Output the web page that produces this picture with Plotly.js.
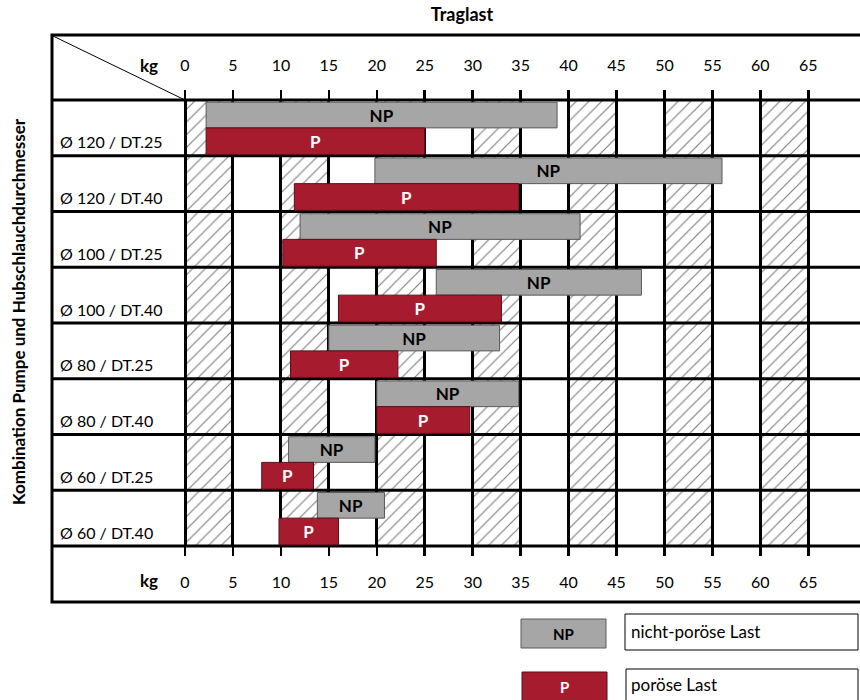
<!DOCTYPE html>
<html><head><meta charset="utf-8">
<script src="https://cdn.plot.ly/plotly-3.0.1.min.js"></script>
<style>html,body{margin:0;padding:0;background:#fff}#chart{width:860px;height:700px}</style>
</head><body><div id="chart"></div>
<script>
// ---- data ----
const categories = ['Ø 120 / DT.25','Ø 120 / DT.40','Ø 100 / DT.25','Ø 100 / DT.40','Ø 80 / DT.25','Ø 80 / DT.40','Ø 60 / DT.25','Ø 60 / DT.40'];
const npStart = [2.2, 19.8, 12.0, 26.2, 15.0, 20.0, 10.8, 13.8];
const npEnd   = [38.8, 56.0, 41.2, 47.6, 32.8, 34.8, 19.8, 20.8];
const pStart  = [2.2, 11.4, 10.2, 16.0, 11.0, 20.0, 8.0, 9.8];
const pEnd    = [25.0, 34.8, 26.2, 33.0, 22.2, 29.7, 13.4, 16.0];
const tickValues = [0,5,10,15,20,25,30,35,40,45,50,55,60,65];
const tickLabels = ['0','5','10','15','20','25','30','35','40','45','50','55','60','65'];
const hatchStart = [0,10,20,30,40,50,60];
const hatchEnd   = [5,15,25,35,45,55,65];
const npLabel = 'NP', pLabel = 'P';
const npLegend = 'nicht-poröse Last', pLegend = 'poröse Last';
const titleText = 'Traglast';
const yTitleText = 'Kombination Pumpe und Hubschlauchdurchmesser';
const unitLabel = 'kg';

// ---- layout geometry ----
const W = 860, H = 700, ML = 183, MR = 0, MT = 100, MB = 154;
const PW = W - ML - MR, PH = H - MT - MB;
const fx = p => (p - ML) / PW;
const fy = p => (MT + PH - p) / PH;
const N = categories.length;
const FONT = 'Lato, "Open Sans", sans-serif';
const GRAY = '#a6a6a6', RED = '#a61b2d';

const idx = categories.map((c, i) => i);

const hatch = {
  type: 'bar', orientation: 'h', xaxis: 'x', yaxis: 'y',
  y: hatchStart.map(() => (N - 1) / 2),
  base: hatchStart,
  x: hatchStart.map((s, i) => hatchEnd[i] - s),
  width: N, offset: -N / 2,
  marker: { color: 'rgba(0,0,0,0)', line: { width: 0 },
    pattern: { shape: '/', size: 9, solidity: 0.13, fgcolor: '#000', bgcolor: 'rgba(0,0,0,0)', fillmode: 'overlay' } },
  hoverinfo: 'skip', showlegend: false
};

const npTrace = {
  type: 'bar', orientation: 'h', xaxis: 'x2', yaxis: 'y',
  y: idx, base: npStart, x: npStart.map((s, i) => npEnd[i] - s),
  offset: -0.46, width: 0.46,
  marker: { color: GRAY, line: { color: '#5a5a5a', width: 1 } },
  text: idx.map(() => npLabel), textposition: 'inside', insidetextanchor: 'middle',
  textangle: 0, constraintext: 'none',
  textfont: { family: FONT, size: 17, color: '#000', weight: 700 },
  name: npLegend, showlegend: false
};
const pTrace = {
  type: 'bar', orientation: 'h', xaxis: 'x2', yaxis: 'y',
  y: idx, base: pStart, x: pStart.map((s, i) => pEnd[i] - s),
  offset: 0, width: 0.48,
  marker: { color: RED, line: { color: '#5a0e18', width: 1 } },
  text: idx.map(() => pLabel), textposition: 'inside', insidetextanchor: 'middle',
  textangle: 0, constraintext: 'none',
  textfont: { family: FONT, size: 17, color: '#fff', weight: 700 },
  name: pLegend, showlegend: false
};

const shapes = [];
for (let k = 0; k <= N; k++) {
  shapes.push({ type: 'line', xref: 'paper', yref: 'paper', x0: fx(52), x1: fx(880), y0: 1 - k / N, y1: 1 - k / N,
    line: { color: '#000', width: 3 }, layer: 'below' });
}
shapes.push({ type: 'rect', xref: 'paper', yref: 'paper', x0: fx(52), x1: fx(890), y0: fy(602), y1: fy(35),
  line: { color: '#000', width: 3 }, fillcolor: 'rgba(0,0,0,0)', layer: 'above' });
shapes.push({ type: 'line', xref: 'paper', yref: 'paper', x0: fx(53), y0: fy(36), x1: fx(185), y1: 1,
  line: { color: '#000', width: 1 }, layer: 'above' });
// legend boxes
shapes.push({ type: 'rect', xref: 'paper', yref: 'paper', x0: fx(521), x1: fx(606), y0: fy(648), y1: fy(619),
  fillcolor: GRAY, line: { color: '#5a5a5a', width: 1 } });
shapes.push({ type: 'rect', xref: 'paper', yref: 'paper', x0: fx(625), x1: fx(858), y0: fy(650), y1: fy(614),
  fillcolor: '#fff', line: { color: '#000', width: 1 } });
shapes.push({ type: 'rect', xref: 'paper', yref: 'paper', x0: fx(522), x1: fx(607), y0: fy(710), y1: fy(672),
  fillcolor: RED, line: { color: '#5a0e18', width: 1 } });
shapes.push({ type: 'rect', xref: 'paper', yref: 'paper', x0: fx(626), x1: fx(858), y0: fy(710), y1: fy(669),
  fillcolor: '#fff', line: { color: '#000', width: 1 } });

const annotations = [];
categories.forEach((c, i) => annotations.push({
  text: c, xref: 'paper', yref: 'y', x: fx(58), y: i + 0.25, xanchor: 'left', yanchor: 'middle',
  showarrow: false, font: { family: FONT, size: 16, color: '#000' }
}));
[65, 580].forEach(py => annotations.push({
  text: unitLabel, xref: 'paper', yref: 'paper', x: fx(149), y: fy(py), xanchor: 'center', yanchor: 'middle',
  showarrow: false, font: { family: FONT, size: 17, color: '#000', weight: 700 }
}));
annotations.push({ text: yTitleText, xref: 'paper', yref: 'paper', x: fx(18), y: fy(312), textangle: -90,
  xanchor: 'center', yanchor: 'middle', showarrow: false, font: { family: FONT, size: 17, color: '#000', weight: 700 } });
annotations.push({ text: npLabel, xref: 'paper', yref: 'paper', x: fx(563), y: fy(634), xanchor: 'center', yanchor: 'middle',
  showarrow: false, font: { family: FONT, size: 15, color: '#000', weight: 700 } });
annotations.push({ text: pLabel, xref: 'paper', yref: 'paper', x: fx(564), y: fy(687), xanchor: 'center', yanchor: 'middle',
  showarrow: false, font: { family: FONT, size: 15, color: '#fff', weight: 700 } });
annotations.push({ text: npLegend, xref: 'paper', yref: 'paper', x: fx(629), y: fy(631), xanchor: 'left', yanchor: 'middle',
  showarrow: false, font: { family: FONT, size: 17, color: '#000' } });
annotations.push({ text: pLegend, xref: 'paper', yref: 'paper', x: fx(629), y: fy(684), xanchor: 'left', yanchor: 'middle',
  showarrow: false, font: { family: FONT, size: 17, color: '#000' } });

const xCommon = {
  range: [-0.21, 70.39], tickmode: 'array', tickvals: tickValues, ticktext: tickLabels,
  ticks: 'outside', ticklen: 9, tickwidth: 2.5, tickcolor: '#000',
  tickfont: { family: FONT, size: 16, color: '#000' }, ticklabelstandoff: 13,
  zeroline: false, showline: false, fixedrange: true
};

const layout = {
  width: W, height: H,
  margin: { l: ML, r: MR, t: MT, b: MB, pad: 0 },
  paper_bgcolor: '#fff', plot_bgcolor: 'rgba(0,0,0,0)',
  barmode: 'overlay', showlegend: false,
  title: { text: titleText, xref: 'container', yref: 'container', x: 462 / W, y: 1 - 15 / H,
    xanchor: 'center', yanchor: 'middle', font: { family: FONT, size: 18, color: '#000', weight: 700 } },
  xaxis: Object.assign({}, xCommon, { side: 'top', showgrid: true, gridcolor: '#000', gridwidth: 3 }),
  xaxis2: Object.assign({}, xCommon, { side: 'bottom', overlaying: 'x', matches: 'x', anchor: 'y', showgrid: false }),
  yaxis: { range: [N - 0.5, -0.5], showgrid: false, zeroline: false, showticklabels: false, ticks: '', showline: false, fixedrange: true },
  shapes, annotations
};

Plotly.newPlot('chart', [hatch, npTrace, pTrace], layout, { displayModeBar: false, staticPlot: true });
</script>
</body></html>
